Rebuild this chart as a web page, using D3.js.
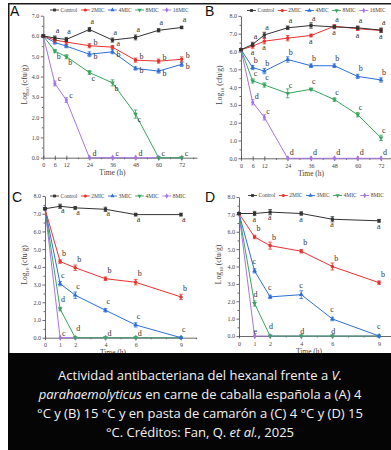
<!DOCTYPE html>
<html><head><meta charset="utf-8">
<script src="https://cdn.jsdelivr.net/npm/d3@7"></script>
<style>body{margin:0;background:#fff;}svg{display:block}</style>
</head><body><svg id="c" width="391" height="450"></svg>
<script>
// ---------- DATA ----------
const timesAB = [0, 6, 12, 24, 36, 48, 60, 72];
const timesCD = [0, 1, 2, 4, 6, 9];
const seriesAB = ["Control", "2MIC", "4MIC", "8MIC", "16MIC"];
const seriesCD = ["Control", "2MIC", "3MIC", "4MIC", "8MIC"];
const xTicksAB = [0, 6, 12, 24, 36, 48, 60, 72];
const xTicksCD = [0, 1, 2, 4, 6, 9];
const yTicksA = [0, 1, 2, 3, 4, 5, 6, 7];
const yTicksBCD = [0, 1, 2, 3, 4, 5, 6, 7, 8];

// Panel A: mackerel, 4 °C
const aControl = [6.0, 5.9, 5.83, 6.32, 5.8, 5.93, 6.28, 6.42];
const a2MIC    = [6.0, 5.8, 5.7, 5.52, 5.45, 4.81, 4.76, 4.85];
const a4MIC    = [6.0, 5.68, 5.5, 5.1, 5.22, 4.4, 4.27, 4.6];
const a8MIC    = [6.0, 5.26, 4.98, 4.2, 3.69, 2.15, 0, 0];
const a16MIC   = [6.0, 3.66, 2.84, 0, 0, 0, 0, 0];
const aErr = [
  [0.05, 0.1, 0.1, 0.1, 0.1, 0.12, 0.08, 0.06],
  [0.05, 0.1, 0.1, 0.1, 0.08, 0.1, 0.1, 0.12],
  [0.05, 0.08, 0.08, 0.12, 0.1, 0.08, 0.1, 0.1],
  [0.05, 0.08, 0.1, 0.1, 0.15, 0.2, 0, 0],
  [0.05, 0.12, 0.12, 0, 0, 0, 0, 0]
];
const aLetters = [
  ["", "a", "a", "a", "a", "a", "a", "a"],
  ["", "", "", "b", "a", "b", "b", "b"],
  ["", "", "", "b", "b", "b", "b", "b"],
  ["", "b", "b", "c", "b", "c", "", ""],
  ["", "c", "c", "d", "c", "d", "c", "c"]
];

// Panel B: mackerel, 15 °C
const bControl = [6.1, 6.4, 6.93, 7.33, 7.46, 7.38, 7.33, 7.2];
const b2MIC    = [6.1, 6.3, 6.58, 6.75, 6.9, 7.42, 7.28, 7.18];
const b4MIC    = [6.1, 5.1, 4.9, 5.55, 5.2, 5.2, 4.6, 4.4];
const b8MIC    = [6.1, 4.35, 4.12, 3.65, 3.88, 3.3, 2.45, 1.15];
const b16MIC   = [6.1, 3.15, 2.3, 0, 0, 0, 0, 0];
const bErr = [
  [0.05, 0.12, 0.15, 0.1, 0.15, 0.1, 0.1, 0.12],
  [0.05, 0.12, 0.15, 0.15, 0.08, 0.08, 0.1, 0.1],
  [0.05, 0.12, 0.15, 0.15, 0.1, 0.1, 0.12, 0.12],
  [0.05, 0.12, 0.12, 0.25, 0.06, 0.1, 0.12, 0.15],
  [0.05, 0.15, 0.15, 0, 0, 0, 0, 0]
];
const bLetters = [
  ["", "a", "a", "a", "a", "a", "a", "a"],
  ["", "a", "a", "", "a", "a", "a", "a"],
  ["", "b", "b", "b", "b", "b", "b", "b"],
  ["", "c", "c", "c", "c", "c", "c", "c"],
  ["", "d", "c", "d", "d", "d", "d", "d"]
];

// Panel C: shrimp paste, 4 °C
const cControl = [7.28, 7.42, 7.33, 7.25, 6.95, 6.95];
const c2MIC    = [7.28, 4.3, 3.95, 3.33, 3.13, 2.3];
const c3MIC    = [7.28, 3.05, 2.4, 1.55, 0.72, 0];
const c4MIC    = [7.28, 1.62, 0, 0, 0, 0];
const c8MIC    = [7.28, 0, 0, 0, 0, 0];
const cErr = [
  [0.05, 0.12, 0.08, 0.12, 0.08, 0.08],
  [0.05, 0.1, 0.15, 0.1, 0.15, 0.15],
  [0.05, 0.12, 0.18, 0.1, 0.12, 0],
  [0.05, 0.1, 0, 0, 0, 0],
  [0.05, 0, 0, 0, 0, 0]
];
const cLetters = [
  ["", "a", "a", "a", "a", "a"],
  ["", "b", "b", "b", "b", "b"],
  ["", "c", "c", "c", "c", "c"],
  ["", "d", "d", "", "", ""],
  ["", "c", "", "d", "d", ""]
];

// Panel D: shrimp paste, 15 °C
const dControl = [7.05, 7.05, 7.13, 7.05, 6.72, 6.63];
const d2MIC    = [7.05, 5.7, 5.2, 4.88, 4.0, 3.07];
const d3MIC    = [7.05, 3.75, 2.25, 2.38, 0.98, 0];
const d4MIC    = [7.05, 1.87, 0, 0, 0, 0];
const d8MIC    = [7.05, 0, 0, 0, 0, 0];
const dErr = [
  [0.05, 0.12, 0.15, 0.1, 0.15, 0.08],
  [0.05, 0.1, 0.2, 0.1, 0.2, 0.1],
  [0.05, 0.12, 0.1, 0.22, 0.1, 0],
  [0.05, 0.15, 0, 0, 0, 0],
  [0.05, 0, 0, 0, 0, 0]
];
const dLetters = [
  ["", "a", "a", "a", "a", "a"],
  ["", "b", "b", "b", "b", "b"],
  ["", "c", "c", "c", "c", "c"],
  ["", "d", "d", "", "", ""],
  ["", "e", "", "d", "d", ""]
];

const captionLines = [
  [["Actividad antibacteriana del hexanal frente a ", false], ["V.", true]],
  [["parahaemolyticus", true], [" en carne de caballa española a (A) 4", false]],
  [["°C y (B) 15 °C y en pasta de camarón a (C) 4 °C y (D) 15", false]],
  [["°C. Créditos: Fan, Q. ", false], ["et al.", true], [", 2025", false]]
];

// ---------- DRAWING ----------
const svg = d3.select("#c");
svg.append("rect").attr("width", 391).attr("height", 450).attr("fill", "#fff");
svg.append("rect").attr("x", 8.75).attr("y", 3.75).attr("width", 386).attr("height", 352)
  .attr("fill", "none").attr("stroke", "#1a1a1a").attr("stroke-width", 1.5);

const colors = ["#333333", "#e8322e", "#2f6fd6", "#3aa55e", "#a674e4"];
const symTypes = [d3.symbolSquare, d3.symbolCircle, d3.symbolTriangle, d3.symbolTriangle, d3.symbolDiamond];
const symRot = [0, 0, 0, 180, 0];
const serif = "'Liberation Serif','DejaVu Serif',serif";

const panels = [
  {label: "A", lx: 10, ly: 16, times: timesAB, names: seriesAB, xTicks: xTicksAB, xMinor: [18, 30, 42, 54, 66, 78],
   xDom: [0, 80], xr: [43.3, 197], yDom: [0, 7], yr: [157.7, 15.7], yTicks: yTicksA,
   values: [aControl, a2MIC, a4MIC, a8MIC, a16MIC], errs: aErr, letters: aLetters,
   lpos: [[1, -5], [4, -1], [4, 5], [2, 8], [3, -2]], legY: 10, legX: 50, titleX: 27, tlY: 175},
  {label: "B", lx: 205, ly: 16, times: timesAB, names: seriesAB, xTicks: xTicksAB, xMinor: [18, 30, 42, 54, 66, 78],
   xDom: [0, 80], xr: [241, 396.6], yDom: [0, 8], yr: [158.3, 15.9], yTicks: yTicksBCD,
   values: [bControl, b2MIC, b4MIC, b8MIC, b16MIC], errs: bErr, letters: bLetters,
   lpos: [[1, -5], [-2, 9], [1, -5], [1, -5], [2, -3]], legY: 10.5, legX: 247, titleX: 222, tlY: 176},
  {label: "C", lx: 12, ly: 202, times: timesCD, names: seriesCD, xTicks: xTicksCD, xMinor: [3, 5, 7, 8, 10],
   xDom: [0, 10], xr: [45, 196.1], yDom: [0, 8], yr: [337.7, 196], yTicks: yTicksBCD,
   values: [cControl, c2MIC, c3MIC, c4MIC, c8MIC], errs: cErr, letters: cLetters,
   lpos: [[1, 7], [2, -6], [1, -6], [1, -7], [2, -2]], legY: 196, legX: 50, titleX: 27, tlY: 355},
  {label: "D", lx: 205, ly: 202, times: timesCD, names: seriesCD, xTicks: xTicksCD, xMinor: [3, 5, 7, 8, 10],
   xDom: [0, 10], xr: [239, 394.6], yDom: [0, 8], yr: [336, 197], yTicks: yTicksBCD,
   values: [dControl, d2MIC, d3MIC, d4MIC, d8MIC], errs: dErr, letters: dLetters,
   lpos: [[-2, 8], [2, -6], [-2, -7], [-1, -7], [-1, -2]], legY: 195.5, legX: 248, titleX: 221, tlY: 354}
];

panels.forEach(p => {
  const g = svg.append("g");
  const x = d3.scaleLinear().domain(p.xDom).range(p.xr);
  const y = d3.scaleLinear().domain(p.yDom).range(p.yr);

  // y axis
  const ya = g.append("g").attr("transform", `translate(${p.xr[0]},0)`)
    .call(d3.axisLeft(y).tickValues(p.yTicks).tickFormat(d3.format(".1f")).tickSize(2.5).tickSizeOuter(0).tickPadding(1.5));
  const yMinor = d3.range(0.5, p.yDom[1], 1);
  g.append("g").attr("transform", `translate(${p.xr[0]},0)`)
    .call(d3.axisLeft(y).tickValues(yMinor).tickFormat("").tickSize(1.5).tickSizeOuter(0))
    .select(".domain").remove();
  // x axis
  const xa = g.append("g").attr("transform", `translate(0,${p.yr[0]})`)
    .call(d3.axisBottom(x).tickValues(p.xTicks).tickFormat(d3.format("d")).tickSize(2.5).tickSizeOuter(0).tickPadding(3));
  xa.selectAll(".tick line").attr("y1", -2);
  g.append("g").attr("transform", `translate(0,${p.yr[0]})`)
    .call(d3.axisBottom(x).tickValues(p.xMinor).tickFormat("").tickSize(1.5).tickSizeOuter(0))
    .select(".domain").remove();
  g.selectAll(".domain, .tick line").attr("stroke", "#444").attr("stroke-width", 0.8);
  g.selectAll(".tick text").attr("font-family", serif).attr("font-size", 6).attr("fill", "#444");

  // axis titles
  const yt = g.append("text").attr("transform", `translate(${p.titleX},${(p.yr[0] + p.yr[1]) / 2 - 2}) rotate(-90)`)
    .attr("text-anchor", "middle").attr("font-family", serif).attr("font-size", 7.5).attr("fill", "#444");
  yt.append("tspan").text("Log");
  yt.append("tspan").attr("font-size", 5).attr("dy", 1.5).text("10");
  yt.append("tspan").attr("dy", -1.5).text(" (cfu/g)");
  g.append("text").attr("x", (x(p.xTicks[0]) + x(p.xTicks[p.xTicks.length - 1])) / 2).attr("y", p.tlY)
    .attr("text-anchor", "middle").attr("font-family", serif).attr("font-size", 7.5).attr("fill", "#444").text("Time (h)");

  // panel letter
  g.append("text").attr("x", p.lx).attr("y", p.ly).attr("font-family", "'Liberation Sans',Arial,sans-serif")
    .attr("font-size", 14).attr("fill", "#111").text(p.label);

  // series (draw last series first so control is on top)
  const line = d3.line().x(d => x(d[0])).y(d => y(d[1]));
  for (let i = p.values.length - 1; i >= 0; i--) {
    const vals = p.values[i];
    const pts = p.times.map((t, k) => [t, vals[k], p.errs[i][k], p.letters[i][k]]);
    const sg = g.append("g");
    sg.append("path").datum(pts).attr("d", line).attr("fill", "none").attr("stroke", colors[i]).attr("stroke-width", 1);
    // error bars
    pts.filter(d => d[2] > 0).forEach(d => {
      const cx = x(d[0]);
      sg.append("line").attr("x1", cx).attr("x2", cx).attr("y1", y(d[1] - d[2])).attr("y2", y(d[1] + d[2]))
        .attr("stroke", colors[i]).attr("stroke-width", 0.8);
      [d[1] - d[2], d[1] + d[2]].forEach(v => sg.append("line").attr("x1", cx - 1.8).attr("x2", cx + 1.8)
        .attr("y1", y(v)).attr("y2", y(v)).attr("stroke", colors[i]).attr("stroke-width", 0.8));
    });
    sg.selectAll("path.m").data(pts).join("path").attr("class", "m")
      .attr("d", d3.symbol().type(symTypes[i]).size(10))
      .attr("transform", d => `translate(${x(d[0])},${y(d[1])}) rotate(${symRot[i]})`)
      .attr("fill", colors[i]);
  }
  // significance letters
  p.values.forEach((vals, i) => {
    p.times.forEach((t, k) => {
      const L = p.letters[i][k];
      if (!L) return;
      g.append("text").attr("x", x(t) + p.lpos[i][0]).attr("y", y(vals[k]) + p.lpos[i][1])
        .attr("font-family", serif).attr("font-size", 8).attr("fill", "#333").text(L);
    });
  });

  // legend
  let lx = p.legX;
  p.names.forEach((n, i) => {
    const lg = g.append("g");
    lg.append("line").attr("x1", lx).attr("x2", lx + 9).attr("y1", p.legY).attr("y2", p.legY)
      .attr("stroke", colors[i]).attr("stroke-width", 0.9);
    lg.append("path").attr("d", d3.symbol().type(symTypes[i]).size(8))
      .attr("transform", `translate(${lx + 4.5},${p.legY}) rotate(${symRot[i]})`).attr("fill", colors[i]);
    const tx = lg.append("text").attr("x", lx + 10.5).attr("y", p.legY + 1.8)
      .attr("font-family", serif).attr("font-size", 5.5).attr("fill", "#444").text(n);
    lx += 10.5 + tx.node().getComputedTextLength() + 3.5;
  });
});

// caption
svg.append("rect").attr("x", 8).attr("y", 353).attr("width", 383).attr("height", 97).attr("fill", "#050505");
captionLines.forEach((parts, i) => {
  const t = svg.append("text").attr("x", 200).attr("y", 380 + i * 19).attr("text-anchor", "middle")
    .attr("font-family", "'Open Sans','Noto Sans',sans-serif").attr("font-size", 13).attr("fill", "#f2f2f2");
  parts.forEach(([s, it]) => t.append("tspan").attr("font-style", it ? "italic" : "normal").text(s));
});
</script></body></html>
